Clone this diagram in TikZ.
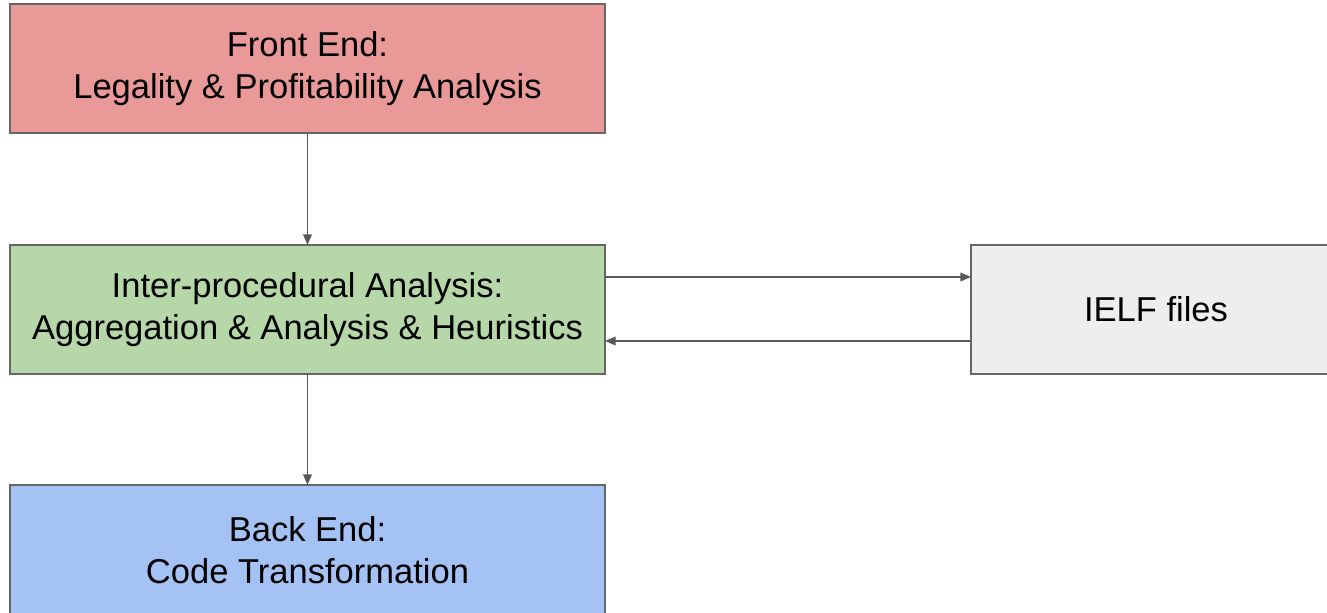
\documentclass[tikz,border=0pt]{standalone}
\usepackage{fontspec}
\setmainfont{Liberation Sans}
\usetikzlibrary{arrows.meta}
\definecolor{redfill}{HTML}{EA9999}
\definecolor{greenfill}{HTML}{B6D7A8}
\definecolor{bluefill}{HTML}{A4C2F4}
\definecolor{grayfill}{HTML}{EEEEEE}
\definecolor{border}{HTML}{666666}
\definecolor{arrowc}{HTML}{595959}
\tikzset{
  box/.style={draw=border, line width=1.5pt, inner sep=0pt, outer sep=0pt, align=center,
    font=\fontsize{25.9}{31.5}\selectfont, text=black},
  arr/.style={draw=arrowc, line width=1.2pt, -{Triangle[length=8pt,width=6.5pt]}},
}
\begin{document}
\begin{tikzpicture}[x=0.75pt,y=-0.75pt]
\useasboundingbox (0,0) rectangle (1327,612);
\node[box, fill=redfill, minimum width=446.25pt, minimum height=96.75pt] (front) at (307.5,68.5)
  {\raisebox{-2.5pt}{Front End:}\\\raisebox{-2.5pt}{Legality \& Profitability Analysis}};
\node[box, fill=greenfill, minimum width=446.25pt, minimum height=96.75pt] (inter) at (307.5,309.5)
  {\raisebox{-2.5pt}{Inter-procedural Analysis:}\\\raisebox{-2.5pt}{Aggregation \& Analysis \& Heuristics}};
\node[box, fill=bluefill, minimum width=446.25pt, minimum height=97.5pt] (back) at (307.5,550)
  {Back End:\\Code Transformation};
\node[box, fill=grayfill, minimum width=277.5pt, minimum height=96.75pt] (ielf) at (1156,309.5)
  {IELF files};
\draw[arr] (front.south) -- (inter.north);
\draw[arr] (inter.south) -- (back.north);
\draw[arr] ([yshift=-24pt]inter.north east) -- ([yshift=-24pt]ielf.north west);
\draw[arr] ([yshift=-72pt]ielf.north west) -- ([yshift=-72pt]inter.north east);
\end{tikzpicture}
\end{document}
